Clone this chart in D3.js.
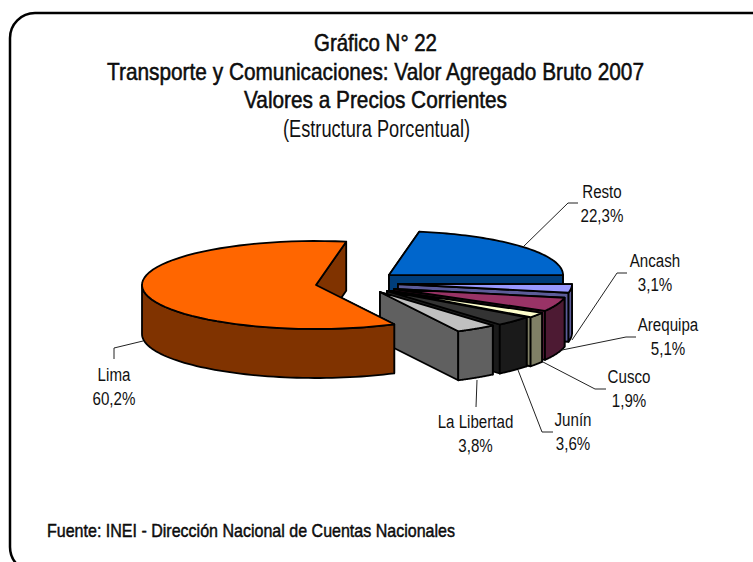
<!DOCTYPE html>
<html><head><meta charset="utf-8">
<script src="https://cdn.jsdelivr.net/npm/d3@7"></script>
<style>html,body{margin:0;background:#fff}svg{display:block}text{font-family:"Liberation Sans",Arial,sans-serif;fill:#111}</style>
</head><body><div id="c"></div>
<script>
const categories=["Resto","Ancash","Arequipa","Cusco","Junín","La Libertad","Lima"];
const values=[22.3,3.1,5.1,1.9,3.6,3.8,60.2];
const valueLabels=["22,3%","3,1%","5,1%","1,9%","3,6%","3,8%","60,2%"];
const topColors=["#0066cc","#9999ff","#993366","#ffffcc","#333333","#c0c0c0","#ff6600"];
const sideColors=["#003d7a","#5c5c99","#4d1a33","#808066","#1a1a1a","#606060","#803300"];
const titleLines=["Gráfico N° 22","Transporte y Comunicaciones: Valor Agregado Bruto 2007","Valores a Precios Corrientes"];
const subtitle="(Estructura Porcentual)";
const source="Fuente: INEI - Dirección Nacional de Cuentas Nacionales";

const W=753,H=562,rx=174,ry=44,depth=49;
// where each exploded slice has its apex
const apexes=[[389,275],[398,284],[394,289],[391,291],[387,291],[380,292],[316,285]];
const svg=d3.select("#c").append("svg").attr("width",W).attr("height",H);
svg.append("rect").attr("x",10).attr("y",13).attr("width",800).attr("height",559).attr("rx",25)
  .attr("fill","#fff").attr("stroke","#000").attr("stroke-width",2.5);

const startA=10*Math.PI/180;
const pie=d3.pie().sort(null).startAngle(startA).endAngle(startA+2*Math.PI);
const arcs=pie(values);
const g=svg.append("g");
arcs.forEach((a,i)=>{
  const c=apexes[i];
  const P=(t,d=0)=>[c[0]+rx*Math.sin(t),c[1]-ry*Math.cos(t)+d];
  const line=d3.line();
  const sweep=(a0,a1,d)=>d3.range(0,61).map(k=>P(a0+(a1-a0)*k/60,d));
  const draw=(pts,fill)=>g.append("path").attr("d",line(pts)+"Z").attr("fill",fill)
    .attr("stroke","#000").attr("stroke-width",1.8).attr("stroke-linejoin","round");
  [a.startAngle,a.endAngle].forEach(t=>draw([c,P(t),P(t,depth),[c[0],c[1]+depth]],sideColors[i]));
  const r0=Math.max(a.startAngle,Math.PI/2),r1=Math.min(a.endAngle,3*Math.PI/2);
  if(r1>r0) draw(sweep(r0,r1,0).concat(sweep(r1,r0,depth)),sideColors[i]);
  draw([c].concat(sweep(a.startAngle,a.endAngle,0)),topColors[i]);
});

// squeeze a text horizontally, as the reference's condensed rendering does
const squeeze=(sel,w)=>sel.attr("textLength",w).attr("lengthAdjust","spacingAndGlyphs");

const leaders=[[[523,247],[568,203],[578,203]],[[572,340],[617,273],[627,273]],[[562,350],[626,337],[636,337]],
 [[543,362],[595,389],[606,389]],[[518,370],[542,432],[553,432]],[[477,380],[476,407]],[[143,341],[114,348],[114,359]]];
const labelPos=[[602,198],[655,267],[668,331],[629,383],[573,426],[475.5,428],[114,381]];
leaders.forEach(l=>svg.append("path").attr("d",d3.line()(l)).attr("fill","none").attr("stroke","#222").attr("stroke-width",1));
categories.forEach((n,i)=>{
  [n,valueLabels[i]].forEach((s,k)=>{
    const t=svg.append("text").attr("text-anchor","middle").attr("font-size",18)
      .attr("x",labelPos[i][0]).attr("y",labelPos[i][1]+k*24.3).text(s);
    squeeze(t,t.node().getComputedTextLength()*0.84);
  });
});
const titleY=[51,80,108],titleW=[123,537,263];
titleLines.forEach((s,i)=>squeeze(svg.append("text").attr("x",375.5).attr("y",titleY[i]).attr("text-anchor","middle")
  .attr("font-size",24).attr("stroke","#000").attr("stroke-width",0.5).text(s),titleW[i]));
squeeze(svg.append("text").attr("x",376.5).attr("y",137).attr("text-anchor","middle").attr("font-size",23).text(subtitle),187);
squeeze(svg.append("text").attr("x",47).attr("y",537).attr("font-size",18.5).attr("stroke","#000").attr("stroke-width",0.45).text(source),408);
</script></body></html>
